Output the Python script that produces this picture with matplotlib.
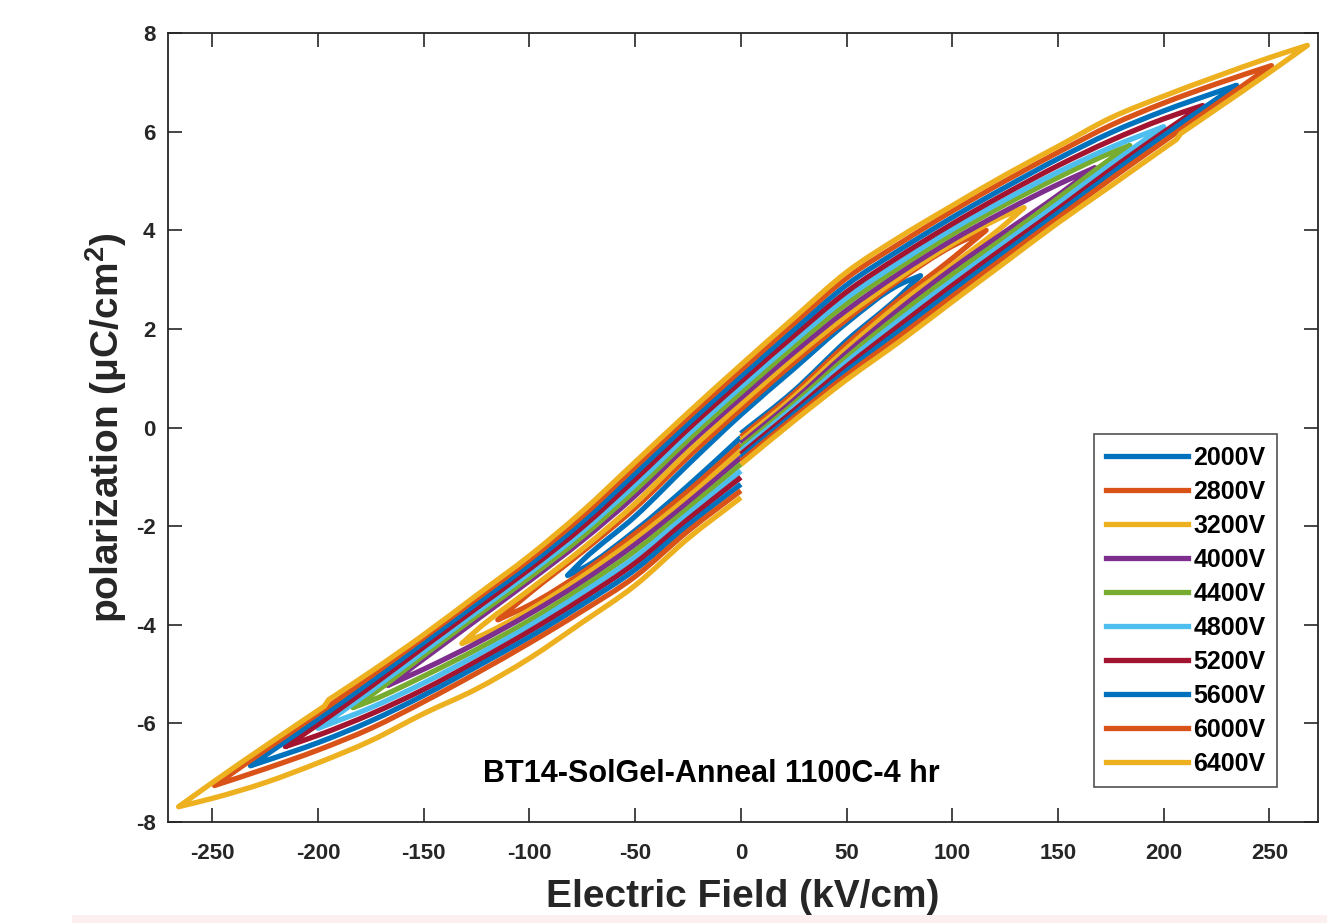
import matplotlib
matplotlib.use("Agg")
import matplotlib.pyplot as plt
from matplotlib.path import Path
from matplotlib.patches import PathPatch, Rectangle
from matplotlib.lines import Line2D

plt.rcParams['font.family'] = ['Liberation Sans', 'DejaVu Sans']
plt.rcParams['font.weight'] = 'bold'
plt.rcParams['axes.unicode_minus'] = False
plt.rcParams['mathtext.fontset'] = 'custom'
plt.rcParams['mathtext.rm'] = 'Liberation Sans'
plt.rcParams['mathtext.bf'] = 'Liberation Sans:bold'

# Applied voltages and their P-E loops (field in kV/cm, polarization in uC/cm^2).
# Each loop is traced in measurement order: 0 -> +Emax -> -Emax -> 0.
voltages = ["2000V", "2800V", "3200V", "4000V", "4400V",
            "4800V", "5200V", "5600V", "6000V", "6400V"]
colors = ["#0072BD", "#D95319", "#EDB120", "#7E2F8E", "#77AC30",
          "#4DBEEE", "#A2142F", "#0072BD", "#D95319", "#EDB120"]

field_2000 = [0, 25, 50, 75, 85, 75, 50, 25, 0, -25, -50, -75, -82, -75, -50, -25, 0]
pol_2000 = [-0.12, 0.74, 1.76, 2.66, 3.08, 2.90, 2.12, 1.19, 0.26, -0.75, -1.80, -2.70,
            -3.00, -2.86, -2.09, -1.18, -0.20]

field_2800 = [0, 25, 50, 75, 100, 116, 100, 75, 50, 25, 0, -25, -50, -75, -100, -115,
              -100, -75, -50, -25, 0]
pol_2800 = [-0.19, 0.69, 1.69, 2.60, 3.43, 4.00, 3.68, 2.99, 2.19, 1.31, 0.37, -0.60,
            -1.63, -2.52, -3.36, -3.90, -3.60, -2.94, -2.15, -1.29, -0.34]

field_3200 = [0, 25, 50, 75, 100, 125, 134, 125, 100, 75, 50, 25, 0, -25, -50, -75,
              -100, -125, -132, -125, -100, -75, -50, -25, 0]
pol_3200 = [-0.26, 0.62, 1.60, 2.51, 3.30, 4.12, 4.46, 4.30, 3.72, 3.04, 2.27, 1.41,
            0.48, -0.49, -1.54, -2.46, -3.29, -4.11, -4.38, -4.26, -3.70, -3.02, -2.26,
            -1.41, -0.47]

field_4000 = [0, 25, 50, 75, 100, 125, 150, 167.5, 150, 125, 100, 75, 50, 25, 0, -25,
              -50, -75, -100, -125, -150, -167, -150, -125, -100, -75, -50, -25, 0]
pol_4000 = [-0.33, 0.55, 1.51, 2.40, 3.22, 3.97, 4.71, 5.27, 4.93, 4.39, 3.80, 3.13,
            2.38, 1.52, 0.60, -0.35, -1.38, -2.29, -3.11, -3.90, -4.69, -5.23, -4.90,
            -4.37, -3.78, -3.12, -2.37, -1.52, -0.61]

field_4400 = [0, 25, 50, 75, 100, 125, 150, 175, 184, 175, 150, 125, 100, 75, 50, 25, 0,
              -25, -50, -75, -100, -125, -150, -175, -183.5, -175, -150, -125, -100,
              -75, -50, -25, 0]
pol_4400 = [-0.40, 0.48, 1.42, 2.29, 3.10, 3.86, 4.65, 5.45, 5.72, 5.57, 5.07, 4.52,
            3.92, 3.25, 2.51, 1.64, 0.71, -0.25, -1.27, -2.21, -3.04, -3.82, -4.62,
            -5.43, -5.68, -5.54, -5.04, -4.50, -3.91, -3.24, -2.50, -1.64, -0.74]

field_4800 = [0, 25, 50, 75, 100, 125, 150, 175, 200, 175, 150, 125, 100, 75, 50, 25, 0,
              -25, -50, -75, -100, -125, -150, -175, -200, -175, -150, -125, -100, -75,
              -50, -25, 0]
pol_4800 = [-0.47, 0.41, 1.33, 2.18, 2.98, 3.76, 4.54, 5.34, 6.10, 5.68, 5.18, 4.62,
            4.02, 3.35, 2.63, 1.75, 0.82, -0.14, -1.16, -2.11, -2.95, -3.74, -4.54,
            -5.34, -6.10, -5.68, -5.18, -4.62, -4.02, -3.35, -2.63, -1.75, -0.88]

field_5200 = [0, 25, 50, 75, 100, 125, 150, 175, 200, 218.5, 200, 175, 150, 125, 100,
              75, 50, 25, 0, -25, -50, -75, -100, -125, -150, -175, -200, -215.5, -200,
              -175, -150, -125, -100, -75, -50, -25, 0]
pol_5200 = [-0.54, 0.34, 1.24, 2.07, 2.88, 3.66, 4.43, 5.23, 5.99, 6.53, 6.26, 5.82,
            5.31, 4.74, 4.13, 3.47, 2.75, 1.86, 0.93, -0.03, -1.05, -2.02, -2.87, -3.66,
            -4.45, -5.25, -6.02, -6.47, -6.24, -5.81, -5.31, -4.74, -4.13, -3.47, -2.75,
            -1.86, -1.01]

field_5600 = [0, 25, 50, 75, 100, 125, 150, 175, 200, 225, 234.5, 225, 200, 175, 150,
              125, 100, 75, 50, 25, 0, -25, -50, -75, -100, -125, -150, -175, -200, -225,
              -232, -225, -200, -175, -150, -125, -100, -75, -50, -25, 0]
pol_5600 = [-0.61, 0.27, 1.15, 1.96, 2.77, 3.56, 4.35, 5.14, 5.92, 6.66, 6.94, 6.80,
            6.42, 5.98, 5.45, 4.87, 4.26, 3.60, 2.89, 1.98, 1.04, 0.08, -0.93, -1.91,
            -2.78, -3.57, -4.36, -5.15, -5.91, -6.65, -6.86, -6.76, -6.39, -5.95, -5.43,
            -4.85, -4.25, -3.59, -2.88, -1.98, -1.15]

field_6000 = [0, 25, 50, 75, 100, 125, 150, 175, 200, 225, 251, 225, 200, 175, 150, 125,
              100, 75, 50, 25, 0, -25, -50, -75, -100, -125, -150, -175, -200, -225, -249,
              -225, -200, -175, -150, -125, -100, -75, -50, -25, 0]
pol_6000 = [-0.68, 0.20, 1.06, 1.85, 2.66, 3.46, 4.25, 5.04, 5.80, 6.56, 7.34, 6.97,
            6.58, 6.13, 5.58, 5.00, 4.39, 3.73, 3.03, 2.11, 1.16, 0.20, -0.80, -1.80,
            -2.68, -3.47, -4.26, -5.04, -5.80, -6.54, -7.26, -6.92, -6.54, -6.10, -5.56,
            -4.98, -4.37, -3.72, -3.02, -2.10, -1.28]

field_6400 = [0, 25, 50, 75, 100, 125, 150, 175, 200, 206, 208, 225, 250, 268, 250, 225,
              200, 175, 150, 125, 100, 75, 50, 25, 0, -25, -50, -75, -100, -125, -150,
              -175, -195, -197, -225, -250, -266, -250, -225, -200, -175, -150, -125,
              -100, -75, -50, -25, 0]
pol_6400 = [-0.75, 0.13, 0.97, 1.74, 2.55, 3.35, 4.15, 4.90, 5.66, 5.84, 5.96, 6.46,
            7.20, 7.75, 7.50, 7.12, 6.72, 6.28, 5.70, 5.12, 4.50, 3.86, 3.15, 2.22, 1.27,
            0.30, -0.70, -1.70, -2.60, -3.40, -4.20, -4.95, -5.52, -5.65, -6.46, -7.20,
            -7.69, -7.52, -7.20, -6.80, -6.35, -5.80, -5.30, -4.68, -3.95, -3.20, -2.25,
            -1.42]

fields = [field_2000, field_2800, field_3200, field_4000, field_4400,
          field_4800, field_5200, field_5600, field_6000, field_6400]
pols = [pol_2000, pol_2800, pol_3200, pol_4000, pol_4400,
        pol_4800, pol_5200, pol_5600, pol_6000, pol_6400]

x_ticks = [-250, -200, -150, -100, -50, 0, 50, 100, 150, 200, 250]
y_ticks = [-8, -6, -4, -2, 0, 2, 4, 6, 8]

ink = "#262626"
line_w = 3.8


def loop_path(e, p):
    """Smooth Bezier path through the loop samples.

    The trace is split at the turning points (field reversals) and at
    abrupt steps (very short field increments); each smooth run is drawn
    as a cubic Hermite curve through its samples.
    """
    n = len(e)
    breaks = {0, n - 1}
    for i in range(1, n - 1):
        if (e[i] - e[i - 1]) * (e[i + 1] - e[i]) < 0:
            breaks.add(i)
    for i in range(n - 1):
        if abs(e[i + 1] - e[i]) < 5:
            breaks.add(i)
            breaks.add(i + 1)
    breaks = sorted(breaks)

    verts = [(e[0], p[0])]
    codes = [Path.MOVETO]
    for a, b in zip(breaks[:-1], breaks[1:]):
        if b - a == 1 and abs(e[b] - e[a]) < 5:
            verts.append((e[b], p[b]))
            codes.append(Path.LINETO)
            continue
        xs, ys = e[a:b + 1], p[a:b + 1]
        m = len(xs)
        h = [xs[i + 1] - xs[i] for i in range(m - 1)]
        s = [(ys[i + 1] - ys[i]) / h[i] for i in range(m - 1)]
        d = [0.0] * m
        d[0], d[-1] = s[0], s[-1]
        for i in range(1, m - 1):
            d[i] = (s[i - 1] * h[i] + s[i] * h[i - 1]) / (h[i - 1] + h[i])
        for i in range(m - 1):
            verts += [(xs[i] + h[i] / 3, ys[i] + d[i] * h[i] / 3),
                      (xs[i + 1] - h[i] / 3, ys[i + 1] - d[i + 1] * h[i] / 3),
                      (xs[i + 1], ys[i + 1])]
            codes += [Path.CURVE4] * 3
    return Path(verts, codes)


fig = plt.figure(figsize=(13.27, 9.23), dpi=100)
# faint tinted strip along the bottom edge of the page
fig.patches.append(Rectangle((0.054, 0.0), 0.946, 0.009, transform=fig.transFigure,
                             facecolor="#FBEFEF", edgecolor="none", zorder=0))
ax = fig.add_axes([0.1266, 0.1094, 0.8666, 0.8548])

handles = []
for e, p, lab, c in zip(fields, pols, voltages, colors):
    ax.add_patch(PathPatch(loop_path(e, p), fill=False, edgecolor=c, lw=line_w,
                           joinstyle="round", capstyle="butt"))
    handles.append(Line2D([], [], color=c, lw=line_w, label=lab))

ax.set_xlim(-271, 273)
ax.set_ylim(-8, 8)
ax.set_xticks(x_ticks)
ax.set_yticks(y_ticks)
ax.tick_params(direction="in", length=10, width=1.2, top=True, right=True,
               labelsize=16, colors=ink)
ax.tick_params(axis="x", pad=15)
ax.tick_params(axis="y", pad=9)
for s in ax.spines.values():
    s.set_color(ink)
    s.set_linewidth(1.3)

ax.set_xlabel("Electric Field (kV/cm)", fontsize=28, fontweight="bold",
              color=ink, labelpad=11)
ax.set_ylabel(r"polarization (μC/cm$^{\mathbf{2}}$)", fontsize=28,
              fontweight="bold", color=ink, labelpad=5)

ax.text(-14, -7.02, "BT14-SolGel-Anneal 1100C-4 hr", ha="center", va="center",
        fontsize=22, fontweight="bold", color="black")

leg = ax.legend(handles=handles, loc="lower right",
                bbox_to_anchor=(0.9643, 0.0444), fontsize=18, frameon=True,
                fancybox=False, edgecolor=ink, borderaxespad=0,
                handlelength=3.3, handletextpad=0.22, labelspacing=0.4,
                borderpad=0.45)
leg.get_frame().set_linewidth(1.2)

fig.savefig("out.png", dpi=100, facecolor="white")
